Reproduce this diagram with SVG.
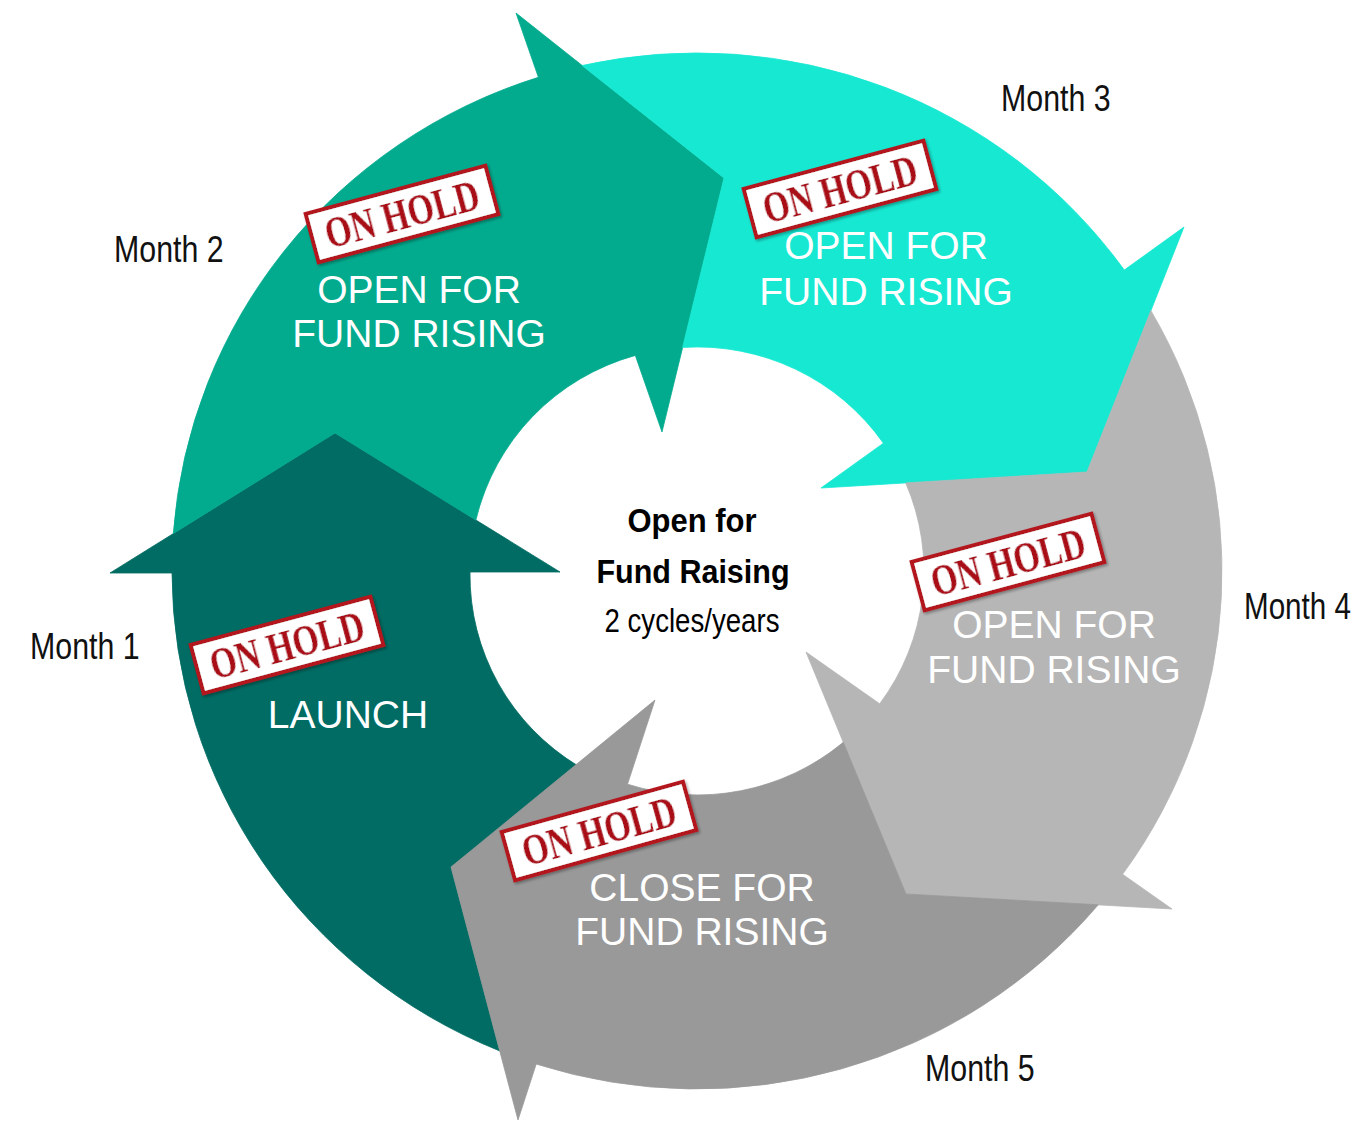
<svg xmlns="http://www.w3.org/2000/svg" width="1358" height="1121" viewBox="0 0 1358 1121">
<defs>
<filter id="shadow" x="-10%" y="-20%" width="120%" height="140%">
<feDropShadow dx="1" dy="2" stdDeviation="1.5" flood-color="#000" flood-opacity="0.35"/>
</filter>
<style>
.lbl{font-family:"Liberation Sans",Arial,sans-serif;font-size:39px;fill:#fff;text-anchor:middle}
.month{font-family:"Liberation Sans",Arial,sans-serif;font-size:37px;fill:#111}
.ctr{font-family:"Liberation Sans",Arial,sans-serif;font-size:33px;fill:#000;text-anchor:middle}
.stbox{fill:#fff;stroke:#B3121E;stroke-width:4}
.sttx{font-family:"Liberation Serif","Times New Roman",serif;font-weight:bold;font-size:44px;fill:#A90C19;text-anchor:middle}
.a1{fill:#006C63;stroke:#006C63;stroke-width:0.8}
.a2{fill:#02AB8E;stroke:#02AB8E;stroke-width:0.8}
.a3{fill:#17E8D2;stroke:#17E8D2;stroke-width:0.8}
.a4{fill:#B6B6B6;stroke:#B6B6B6;stroke-width:0.8}
.a5{fill:#999999;stroke:#999999;stroke-width:0.8}
</style>
</defs>
<rect width="1358" height="1121" fill="#fff"/>
<g id="connectors"></g>
<g id="node-month1">
<path class="a1" d="M 499.7,1050.9 A 525 518 0 0 1 172,573 L 110,573 L 335,433 L 560,572 L 470,572 A 227 224 0 0 0 578.8,766.4 L 451,867 Z"/>
<g transform="translate(287,645) rotate(-15)" filter="url(#shadow)">
<rect class="stbox" x="-93" y="-25" width="186" height="50"/>
<text class="sttx" x="0" y="15" textLength="158" lengthAdjust="spacingAndGlyphs">ON HOLD</text>
</g>
<text class="lbl" x="348" y="728">LAUNCH</text>
<text class="month" transform="translate(30,659) scale(0.82,1)">Month 1</text>
</g>
<g id="node-month2">
<path class="a2" d="M 173.3,533.6 A 525 518 0 0 1 538.4,77.3 L 516,13 L 724,178 L 662,432 L 635.3,355.4 A 227 224 0 0 0 475.9,520.1 L 335,433 Z"/>
<g transform="translate(402,214) rotate(-15)" filter="url(#shadow)">
<rect class="stbox" x="-93" y="-25" width="186" height="50"/>
<text class="sttx" x="0" y="15" textLength="158" lengthAdjust="spacingAndGlyphs">ON HOLD</text>
</g>
<text class="lbl" x="419" y="303">OPEN FOR</text>
<text class="lbl" x="419" y="347">FUND RISING</text>
<text class="month" transform="translate(114,262) scale(0.82,1)">Month 2</text>
</g>
<g id="node-month3">
<path class="a3" d="M 582.1,65.5 A 525 518 0 0 1 1124.3,270 L 1184,227 L 1087,472 L 821,488 L 883.4,443.2 A 227 224 0 0 0 682.6,347.4 L 724,178 Z"/>
<g transform="translate(840,189) rotate(-15)" filter="url(#shadow)">
<rect class="stbox" x="-93" y="-25" width="186" height="50"/>
<text class="sttx" x="0" y="15" textLength="158" lengthAdjust="spacingAndGlyphs">ON HOLD</text>
</g>
<text class="lbl" x="886" y="259">OPEN FOR</text>
<text class="lbl" x="886" y="305">FUND RISING</text>
<text class="month" transform="translate(1001,111) scale(0.82,1)">Month 3</text>
</g>
<g id="node-month4">
<path class="a4" d="M 1150.9,310.7 A 525 518 0 0 1 1122.6,874.3 L 1172,909 L 906,894 L 806,652 L 879.7,703.8 A 227 224 0 0 0 905.7,482.9 L 1087,472 Z"/>
<g transform="translate(1008,562) rotate(-15)" filter="url(#shadow)">
<rect class="stbox" x="-93" y="-25" width="186" height="50"/>
<text class="sttx" x="0" y="15" textLength="158" lengthAdjust="spacingAndGlyphs">ON HOLD</text>
</g>
<text class="lbl" x="1054" y="638">OPEN FOR</text>
<text class="lbl" x="1054" y="683">FUND RISING</text>
<text class="month" transform="translate(1244,619) scale(0.8,1)">Month 4</text>
</g>
<g id="node-month5">
<path class="a5" d="M 1098.3,904.8 A 525 518 0 0 1 536.2,1064.1 L 518,1120 L 451,867 L 655,700 L 627.5,784.2 A 227 224 0 0 0 843.3,742.3 L 906,894 Z"/>
<g transform="translate(599,831) rotate(-15.5)" filter="url(#shadow)">
<rect class="stbox" x="-94" y="-25" width="188" height="50"/>
<text class="sttx" x="0" y="15" textLength="158" lengthAdjust="spacingAndGlyphs">ON HOLD</text>
</g>
<text class="lbl" x="702" y="901">CLOSE FOR</text>
<text class="lbl" x="702" y="945">FUND RISING</text>
<text class="month" transform="translate(925,1081) scale(0.82,1)">Month 5</text>
</g>
<g id="node-center">
<text class="ctr" x="692" y="532" font-weight="bold" textLength="129" lengthAdjust="spacingAndGlyphs">Open for</text>
<text class="ctr" x="693" y="583" font-weight="bold" textLength="193" lengthAdjust="spacingAndGlyphs">Fund Raising</text>
<text class="ctr" x="692" y="632" textLength="175" lengthAdjust="spacingAndGlyphs">2 cycles/years</text>
</g>
</svg>
